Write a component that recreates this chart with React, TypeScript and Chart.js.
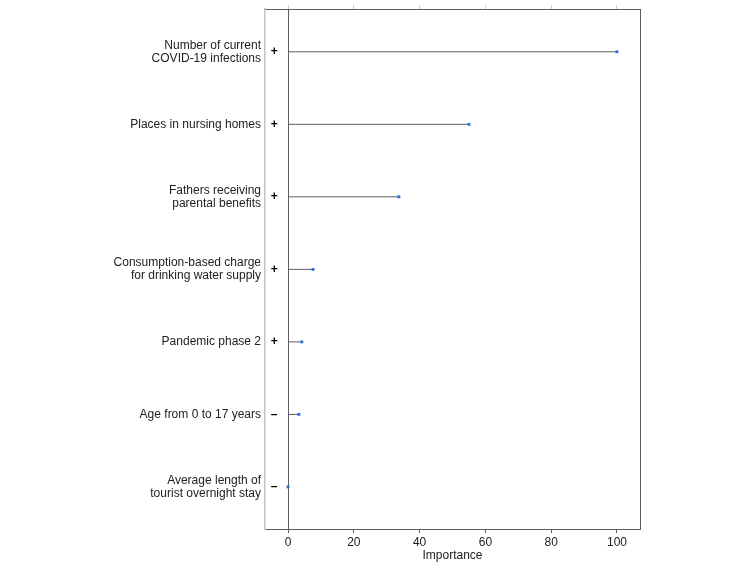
import React, { useEffect, useRef } from "react";
import { Chart, registerables } from "chart.js";

Chart.register(...registerables);

const categories: (string | string[])[] = [
  ["Number of current", "COVID-19 infections"],
  "Places in nursing homes",
  ["Fathers receiving", "parental benefits"],
  ["Consumption-based charge", "for drinking water supply"],
  "Pandemic phase 2",
  "Age from 0 to 17 years",
  ["Average length of", "tourist overnight stay"],
];
const importance = [100, 55, 33.7, 7.6, 4.2, 3.3, 0];
const signs = ["+", "+", "+", "+", "+", "–", "–"];
const xTicks = [0, 20, 40, 60, 80, 100];

const FONT = "Arial, 'Liberation Sans', sans-serif";

export default function App() {
  const ref = useRef<HTMLCanvasElement>(null);
  useEffect(() => {
    document.body.style.margin = "0";
    const ctx = ref.current!;
    const positions = categories.map((_, i) => i + 1);
    const stems = importance.map((v, i) => ({
      type: "line" as const,
      data: [
        { x: 0, y: positions[i] },
        { x: v, y: positions[i] },
      ],
      borderColor: "#5e5e5e",
      borderWidth: 1,
      pointRadius: 0,
      showLine: true,
      order: 2,
    }));
    const signPlugin = {
      id: "signs",
      afterDatasetsDraw(chart: any) {
        const c = chart.ctx;
        const xs = chart.scales.x;
        const ys = chart.scales.y;
        c.save();
        c.fillStyle = "#000";
        c.font = `bold 12px ${FONT}`;
        c.textAlign = "center";
        c.textBaseline = "middle";
        signs.forEach((s, i) => {
          c.fillText(s, xs.getPixelForValue(-4.2), ys.getPixelForValue(positions[i]));
        });
        c.restore();
      },
    };
    const chart = new Chart(ctx, {
      type: "scatter",
      data: {
        datasets: [
          ...stems,
          {
            type: "scatter" as const,
            data: importance.map((v, i) => ({ x: v, y: positions[i] })),
            backgroundColor: "#1f6fe0",
            borderColor: "#1f6fe0",
            pointStyle: "rect",
            pointRadius: 2,
            borderWidth: 0,
            order: 0,
          },
        ] as any,
      },
      options: {
        responsive: false,
        animation: false,
        events: [],
        layout: { padding: { left: 0, right: 110, top: 0, bottom: 0 } },
        plugins: { legend: { display: false }, tooltip: { enabled: false } },
        scales: {
          x: {
            type: "linear",
            position: "bottom",
            min: -7,
            max: 107,
            afterBuildTicks: (s: any) => {
              s.ticks = xTicks.map((v) => ({ value: v }));
            },
            afterFit: (s: any) => {
              s.height = 36;
              s.paddingLeft = 0;
              s.paddingRight = 0;
            },
            grid: {
              color: (c: any) => (c.tick && c.tick.value === 0 ? "#5e5e5e" : "rgba(0,0,0,0)"),
              tickColor: "#5e5e5e",
              tickLength: 4,
              lineWidth: 1,
            },
            border: { color: "#5e5e5e", width: 1 },
            ticks: { color: "#222", font: { size: 12, family: FONT }, padding: 2, maxRotation: 0 },
            title: {
              display: true,
              text: "Importance",
              color: "#222",
              font: { size: 12, family: FONT },
              padding: { top: 0, bottom: 2 },
            },
          },
          x2: {
            type: "linear",
            position: "top",
            min: -7,
            max: 107,
            afterBuildTicks: (s: any) => {
              s.ticks = xTicks.map((v) => ({ value: v }));
            },
            afterFit: (s: any) => {
              s.height = 9;
              s.paddingLeft = 0;
              s.paddingRight = 0;
            },
            grid: { drawOnChartArea: false, tickColor: "#cfcfcf", tickLength: 4 },
            border: { color: "#5e5e5e", width: 1 },
            ticks: { display: false },
          },
          y: {
            type: "linear",
            position: "left",
            reverse: true,
            min: 0.41,
            max: 7.58,
            afterBuildTicks: (s: any) => {
              s.ticks = positions.map((v) => ({ value: v }));
            },
            afterFit: (s: any) => {
              s.width = 265;
              s.paddingTop = 0;
              s.paddingBottom = 0;
            },
            grid: { display: false, drawTicks: false },
            border: { color: "#c4c4c4", width: 1.5 },
            ticks: {
              color: "#222",
              padding: 4,
              font: { size: 12, family: FONT, lineHeight: 1.1 },
              callback: (v: any) => categories[Math.round(v) - 1] as any,
            },
          },
          y2: {
            type: "linear",
            position: "right",
            min: 0.41,
            max: 7.58,
            afterFit: (s: any) => {
              s.width = 0;
              s.paddingTop = 0;
              s.paddingBottom = 0;
            },
            grid: { display: false, drawTicks: false },
            border: { color: "#5e5e5e", width: 1 },
            ticks: { display: false },
          },
        },
      } as any,
      plugins: [signPlugin],
    });
    return () => chart.destroy();
  }, []);
  return (
    <div style={{ width: 750, height: 565 }}>
      <canvas ref={ref} width={750} height={565} style={{ display: "block" }} />
    </div>
  );
}
